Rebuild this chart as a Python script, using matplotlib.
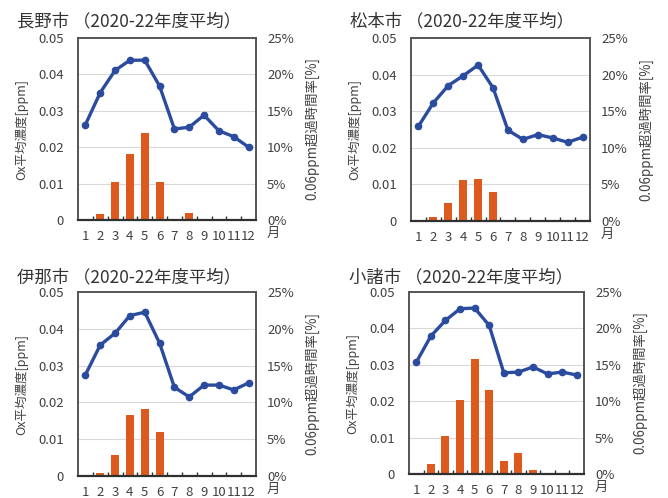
import numpy as np
import matplotlib.pyplot as plt
from matplotlib.ticker import FuncFormatter

plt.rcParams['font.family'] = ['Noto Sans CJK JP', 'DejaVu Sans']

months = np.arange(1, 13)
month_labels = [str(m) for m in months]

cities = ['長野市', '松本市', '伊那市', '小諸市']

# Ox平均濃度 [ppm]
ox_nagano = [0.0262, 0.0350, 0.0411, 0.0439, 0.0439, 0.0368, 0.0250, 0.0255, 0.0288, 0.0245, 0.0229, 0.0200]
ox_matsumoto = [0.0259, 0.0323, 0.0370, 0.0397, 0.0426, 0.0364, 0.0248, 0.0223, 0.0236, 0.0227, 0.0215, 0.0229]
ox_ina = [0.0275, 0.0356, 0.0388, 0.0436, 0.0445, 0.0361, 0.0241, 0.0215, 0.0247, 0.0247, 0.0234, 0.0253]
ox_komoro = [0.0307, 0.0379, 0.0422, 0.0454, 0.0456, 0.0408, 0.0278, 0.0280, 0.0294, 0.0275, 0.0280, 0.0272]

# 0.06ppm超過時間率 [%]
rate_nagano = [0, 0.8, 5.2, 9.0, 11.9, 5.2, 0.2, 0.9, 0, 0, 0, 0]
rate_matsumoto = [0, 0.55, 2.4, 5.6, 5.8, 4.0, 0, 0, 0, 0, 0, 0]
rate_ina = [0, 0.45, 2.8, 8.3, 9.1, 6.0, 0, 0, 0, 0, 0, 0]
rate_komoro = [0, 1.4, 5.2, 10.1, 15.8, 11.6, 1.8, 2.9, 0.5, 0, 0, 0]

ox_all = [ox_nagano, ox_matsumoto, ox_ina, ox_komoro]
rate_all = [rate_nagano, rate_matsumoto, rate_ina, rate_komoro]

W, H = 668, 498
# 各パネルの枠 (px): left, right, top, bottom
boxes = [(78, 256, 38, 220), (411, 590, 38, 221), (78, 256, 292, 476), (409, 584, 292, 474)]
title_y = [21, 21, 277, 277]
title_x = [17, 350, 17, 349]

blue = '#2B4C9E'
orange = '#DD5A1E'
txt = '#404040'

fig = plt.figure(figsize=(W / 100, H / 100), dpi=100)

for i in range(4):
    l, r, t, b = boxes[i]
    w = r - l
    ax = fig.add_axes([l / W, 1 - b / H, w / W, (b - t) / H])
    ax2 = ax.twinx()

    ax2.bar(months, rate_all[i], width=0.55, color=orange, zorder=2)
    ax2.set_ylim(0, 25)
    ax2.set_yticks([0, 5, 10, 15, 20, 25])
    ax2.yaxis.set_major_formatter(FuncFormatter(lambda v, p: f'{v:.0f}%'))
    ax2.tick_params(axis='y', length=0, labelsize=9.5, colors=txt, pad=8)
    ax2.set_ylabel('0.06ppm超過時間率[%]', rotation=90, fontsize=9.6, color=txt)
    ax2.yaxis.set_label_coords(1 + 49 / w, 0.5)

    ax.set_zorder(ax2.get_zorder() + 1)
    ax.patch.set_visible(False)
    ax.plot(months, ox_all[i], color=blue, lw=2.4, marker='o', ms=4.5, zorder=3)
    ax.set_ylim(0, 0.05)
    ax.set_xlim(0.5, 12.5)
    ax.set_yticks([0, 0.01, 0.02, 0.03, 0.04, 0.05])
    ax.set_yticklabels(['0', '0.01', '0.02', '0.03', '0.04', '0.05'])
    ax.tick_params(axis='y', length=0, labelsize=9.5, colors=txt, pad=10)
    ax.set_ylabel('Ox平均濃度[ppm]', fontsize=9, color=txt)
    ax.yaxis.set_label_coords(-50 / w, 0.5)
    for yv in [0.01, 0.02, 0.03, 0.04]:
        ax2.axhline(yv * 500, color='#D9D9D9', lw=0.8, zorder=1)

    ax.set_xticks(months)
    ax.set_xticklabels(month_labels)
    ax.set_xticks(np.arange(1.5, 12.5, 1), minor=True)
    ax.tick_params(axis='x', which='major', length=0, labelsize=9.5, colors=txt, pad=7)
    ax.tick_params(axis='x', which='minor', direction='in', length=3, width=1, color='#303030')
    ax.text(1.06, -0.04, '月', transform=ax.transAxes, fontsize=9.5, color=txt, va='top', ha='left')

    for a in (ax, ax2):
        for s in a.spines.values():
            s.set_color('#555555')
            s.set_linewidth(1.2)
    ax.spines['bottom'].set_color('#303030')
    ax.spines['bottom'].set_linewidth(1.6)

    fig.text(title_x[i] / W, 1 - title_y[i] / H, cities[i] + ' （2020-22年度平均）',
             fontsize=12.5, color='#333333', va='center', ha='left')

fig.savefig('out.png', dpi=100)
